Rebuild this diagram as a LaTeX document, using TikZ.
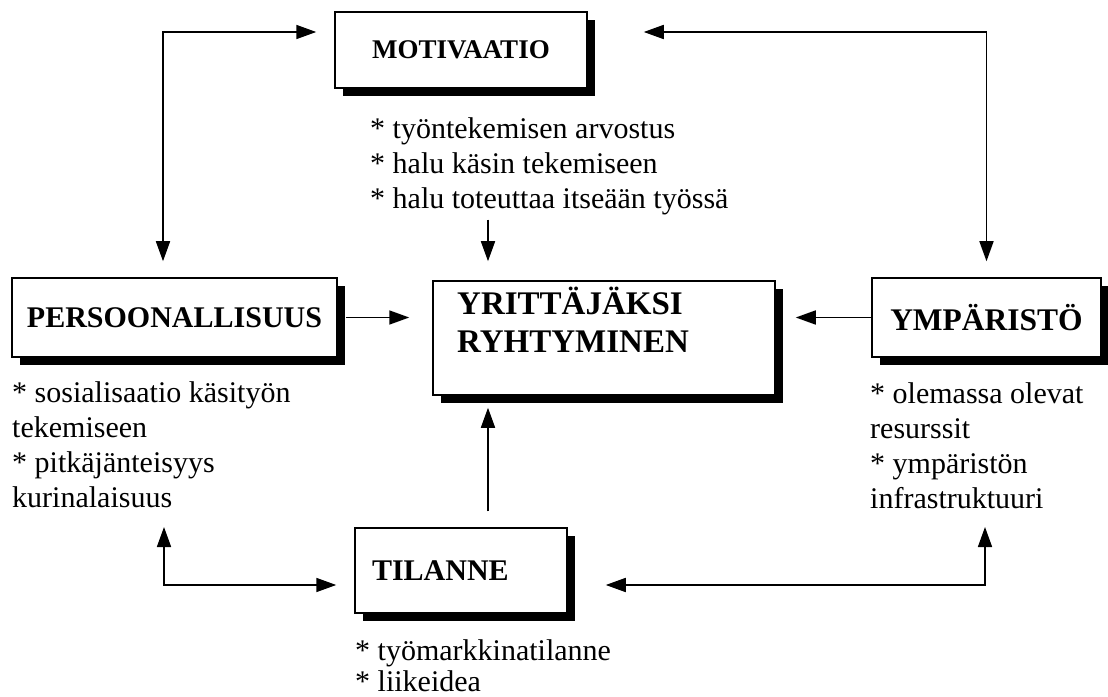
\documentclass[tikz,border=0pt]{standalone}
\usepackage{fontspec}
\setmainfont{Liberation Serif}
\usetikzlibrary{arrows.meta,shadows,calc}
\begin{document}
\begin{tikzpicture}[x=1bp,y=-1bp,
  txt/.style={font=\fontsize{30bp}{35bp}\selectfont, inner sep=0pt},
  lst/.style={txt, align=left, anchor=north west},
  hbox/.style={draw, line width=1.5bp, fill=white,
    font=\fontsize{30bp}{35bp}\selectfont\bfseries, inner sep=0pt,
    drop shadow={shadow xshift=8bp, shadow yshift=-8bp, fill=black, opacity=1}},
  conn/.style={line width=1.7bp, -{Triangle[length=20bp,width=14bp]}},
  conn2/.style={line width=1.7bp, {Triangle[length=20bp,width=14bp]}-{Triangle[length=20bp,width=14bp]}},
]
\useasboundingbox (0,0) rectangle (1108,697);

% boxes
\node[hbox, minimum width=252bp, minimum height=76bp, font=\fontsize{27bp}{30bp}\selectfont\bfseries] (mot) at (461,50) {MOTIVAATIO};
\node[hbox, minimum width=325bp, minimum height=79bp] (pers) at (174.5,317.5) {PERSOONALLISUUS};
\node[hbox, minimum width=229bp, minimum height=79bp, font=\fontsize{31.5bp}{35bp}\selectfont\bfseries] (ymp) at (986.5,317.5) {YMPÄRISTÖ};
\node[hbox, minimum width=342bp, minimum height=114bp] (yr) at (604,338) {};
\node[txt, font=\fontsize{33bp}{38bp}\selectfont\bfseries, align=left, anchor=north west] (yrt) at (457,287) {YRITTÄJÄKSI\\RYHTYMINEN};
\node[hbox, minimum width=212bp, minimum height=85bp, text width=178bp, align=left] (til) at (461,570.5) {TILANNE};

% lists
\node[lst] (mlist) at (370,117) {* työntekemisen arvostus\\* halu käsin tekemiseen\\* halu toteuttaa itseään työssä};
\node[lst] (plist) at (12,381) {* sosialisaatio käsityön\\tekemiseen\\* pitkäjänteisyys\\kurinalaisuus};
\node[lst] (ylist) at (870,382) {* olemassa olevat\\resurssit\\* ympäristön\\infrastruktuuri};
\node[lst, font=\fontsize{30bp}{31bp}\selectfont] (tlist) at (355,639) {* työmarkkinatilanne\\* liikeidea};

% connector points
\coordinate (ma) at ([xshift=-116bp]yr.north);
\coordinate (mb) at ([xshift=-116bp]yr.south);
\coordinate (pa) at (164,527);
\coordinate (ya) at (985,527);

% connectors
\draw[conn2, shorten <=16bp, shorten >=18bp] ([xshift=-11.5bp]pers.north) |- ([yshift=18bp]mot.west);
\draw[conn2, shorten <=56bp, shorten >=16bp] ([yshift=18bp]mot.east) -| (ymp.north);
\draw[conn, shorten <=5bp, shorten >=19bp] (mlist.south -| ma) -- (ma);
\draw[conn, shorten <=8bp, shorten >=23bp] (pers.east) -- (pers.east -| yr.west);
\draw[conn, shorten >=20bp] (ymp.west) -- (ymp.west -| yr.east);
\draw[conn, shorten <=16bp, shorten >=12bp] (til.north -| mb) -- (mb);
\draw[conn2, shorten >=18bp] (pa) |- ([yshift=-14.5bp]til.west);
\draw[conn2, shorten >=38bp] (ya) |- ([yshift=-14.5bp]til.east);
\end{tikzpicture}
\end{document}
